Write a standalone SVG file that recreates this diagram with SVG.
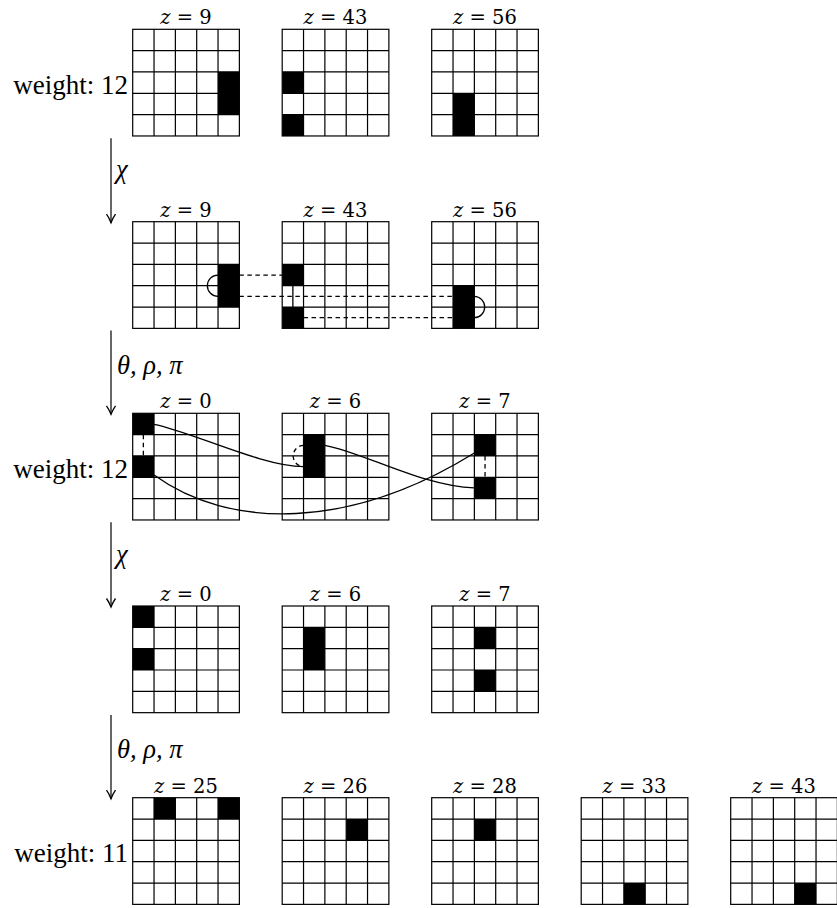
<svg xmlns="http://www.w3.org/2000/svg" xmlns:xlink="http://www.w3.org/1999/xlink" width="837" height="908" viewBox="0 0 837 908">
<style>
.zl{font-family:"DejaVu Serif","Liberation Serif",serif;font-size:19.5px;text-anchor:middle;fill:#000}
.zl tspan.i{font-style:italic}
.wl{font-family:"Liberation Serif","DejaVu Serif",serif;font-size:27px;text-anchor:end;fill:#000}
.op{font-family:"Liberation Serif","DejaVu Serif",serif;font-size:26.5px;font-style:italic;fill:#000}
.gl{fill:none;stroke:#000;stroke-width:1.2}
.on{fill:#000}
.arr{fill:none;stroke:#000;stroke-width:1.2}
.sol{fill:none;stroke:#000;stroke-width:1.3}
.dash{fill:none;stroke:#000;stroke-width:1.3;stroke-dasharray:4.5 3.5}
</style>
<defs>
<g id="grid">
<rect class="gl" x="0" y="0" width="106.67" height="106.67"/>
<path class="gl" d="M21.33,0V106.67M42.67,0V106.67M64,0V106.67M85.33,0V106.67M0,21.33H106.67M0,42.67H106.67M0,64H106.67M0,85.33H106.67"/>
</g>
<marker id="ah" markerUnits="userSpaceOnUse" markerWidth="12" markerHeight="12" viewBox="-9 -6 10 12" refX="0" refY="0" orient="auto">
<path d="M-8.5,-4.5C-5,-2 -1.5,-0.6 0,0C-1.5,0.6 -5,2 -8.5,4.5" fill="none" stroke="#000" stroke-width="1.3"/>
</marker>
</defs>

<!-- Row 1 -->
<text class="wl" x="128" y="94">weight: 12</text>
<g id="r1g1" transform="translate(132.7,29.3)">
<rect class="on" x="85.33" y="42.67" width="21.33" height="42.67"/>
<use xlink:href="#grid"/>
<text class="zl" x="53.33" y="-5"><tspan class="i">z</tspan> = 9</text>
</g>
<g id="r1g2" transform="translate(282.2,29.3)">
<rect class="on" x="0" y="42.67" width="21.33" height="21.33"/>
<rect class="on" x="0" y="85.33" width="21.33" height="21.33"/>
<use xlink:href="#grid"/>
<text class="zl" x="53.33" y="-5"><tspan class="i">z</tspan> = 43</text>
</g>
<g id="r1g3" transform="translate(431.7,29.3)">
<rect class="on" x="21.33" y="64" width="21.33" height="42.67"/>
<use xlink:href="#grid"/>
<text class="zl" x="53.33" y="-5"><tspan class="i">z</tspan> = 56</text>
</g>

<!-- Row 2 -->
<g id="r2g1" transform="translate(132.7,221.7)">
<rect class="on" x="85.33" y="42.67" width="21.33" height="42.67"/>
<use xlink:href="#grid"/>
<text class="zl" x="53.33" y="-5"><tspan class="i">z</tspan> = 9</text>
</g>
<g id="r2g2" transform="translate(282.2,221.7)">
<rect class="on" x="0" y="42.67" width="21.33" height="21.33"/>
<rect class="on" x="0" y="85.33" width="21.33" height="21.33"/>
<use xlink:href="#grid"/>
<text class="zl" x="53.33" y="-5"><tspan class="i">z</tspan> = 43</text>
</g>
<g id="r2g3" transform="translate(431.7,221.7)">
<rect class="on" x="21.33" y="64" width="21.33" height="42.67"/>
<use xlink:href="#grid"/>
<text class="zl" x="53.33" y="-5"><tspan class="i">z</tspan> = 56</text>
</g>

<!-- Row 3 -->
<text class="wl" x="128" y="478">weight: 12</text>
<g id="r3g1" transform="translate(132.7,413.3)">
<rect class="on" x="0" y="0" width="21.33" height="21.33"/>
<rect class="on" x="0" y="42.67" width="21.33" height="21.33"/>
<use xlink:href="#grid"/>
<text class="zl" x="53.33" y="-5"><tspan class="i">z</tspan> = 0</text>
</g>
<g id="r3g2" transform="translate(282.2,413.3)">
<rect class="on" x="21.33" y="21.33" width="21.33" height="42.67"/>
<use xlink:href="#grid"/>
<text class="zl" x="53.33" y="-5"><tspan class="i">z</tspan> = 6</text>
</g>
<g id="r3g3" transform="translate(431.7,413.3)">
<rect class="on" x="42.67" y="21.33" width="21.33" height="21.33"/>
<rect class="on" x="42.67" y="64" width="21.33" height="21.33"/>
<use xlink:href="#grid"/>
<text class="zl" x="53.33" y="-5"><tspan class="i">z</tspan> = 7</text>
</g>

<!-- Row 4 -->
<g id="r4g1" transform="translate(132.7,606)">
<rect class="on" x="0" y="0" width="21.33" height="21.33"/>
<rect class="on" x="0" y="42.67" width="21.33" height="21.33"/>
<use xlink:href="#grid"/>
<text class="zl" x="53.33" y="-5"><tspan class="i">z</tspan> = 0</text>
</g>
<g id="r4g2" transform="translate(282.2,606)">
<rect class="on" x="21.33" y="21.33" width="21.33" height="42.67"/>
<use xlink:href="#grid"/>
<text class="zl" x="53.33" y="-5"><tspan class="i">z</tspan> = 6</text>
</g>
<g id="r4g3" transform="translate(431.7,606)">
<rect class="on" x="42.67" y="21.33" width="21.33" height="21.33"/>
<rect class="on" x="42.67" y="64" width="21.33" height="21.33"/>
<use xlink:href="#grid"/>
<text class="zl" x="53.33" y="-5"><tspan class="i">z</tspan> = 7</text>
</g>

<!-- Row 5 -->
<text class="wl" x="128" y="862">weight: 11</text>
<g id="r5g1" transform="translate(132.7,797.7)">
<rect class="on" x="21.33" y="0" width="21.33" height="21.33"/>
<rect class="on" x="85.33" y="0" width="21.33" height="21.33"/>
<use xlink:href="#grid"/>
<text class="zl" x="53.33" y="-5"><tspan class="i">z</tspan> = 25</text>
</g>
<g id="r5g2" transform="translate(282.2,797.7)">
<rect class="on" x="64" y="21.33" width="21.33" height="21.33"/>
<use xlink:href="#grid"/>
<text class="zl" x="53.33" y="-5"><tspan class="i">z</tspan> = 26</text>
</g>
<g id="r5g3" transform="translate(431.7,797.7)">
<rect class="on" x="42.67" y="21.33" width="21.33" height="21.33"/>
<use xlink:href="#grid"/>
<text class="zl" x="53.33" y="-5"><tspan class="i">z</tspan> = 28</text>
</g>
<g id="r5g4" transform="translate(581.2,797.7)">
<rect class="on" x="42.67" y="85.33" width="21.33" height="21.33"/>
<use xlink:href="#grid"/>
<text class="zl" x="53.33" y="-5"><tspan class="i">z</tspan> = 33</text>
</g>
<g id="r5g5" transform="translate(730.7,797.7)">
<rect class="on" x="64" y="85.33" width="21.33" height="21.33"/>
<use xlink:href="#grid"/>
<text class="zl" x="53.33" y="-5"><tspan class="i">z</tspan> = 43</text>
</g>

<!-- Connectors -->
<g id="connectors">
<path class="arr" d="M111,138.3V222.7" marker-end="url(#ah)"/>
<path class="arr" d="M111,330.6V414.3" marker-end="url(#ah)"/>
<path class="arr" d="M111,522.3V607" marker-end="url(#ah)"/>
<path class="arr" d="M111,715V798.7" marker-end="url(#ah)"/>
<text class="op" x="116" y="178">χ</text>
<text class="op" x="117" y="373.5">θ, ρ, π</text>
<text class="op" x="116" y="562.7">χ</text>
<text class="op" x="117" y="758">θ, ρ, π</text>

<path class="sol" d="M218.03,275.03A10.67,10.67 0 0 0 218.03,296.37"/>
<path class="dash" d="M239.37,275.03H282.2"/>
<path class="dash" d="M239.37,296.37H453.03"/>
<path class="sol" d="M292.87,285.7V307.03"/>
<path class="dash" d="M303.53,317.7H453.03"/>
<path class="sol" d="M474.37,296.37A10.67,10.67 0 0 1 474.37,317.7"/>

<path class="dash" d="M143.37,434.63V455.97"/>
<path class="dash" d="M303.53,445.3A10.67,10.67 0 0 0 303.53,466.63"/>
<path class="dash" d="M485.03,455.97V477.3"/>
<path class="sol" d="M154.03,424.3C190,431 262,466.6 303.53,466.63"/>
<path class="sol" d="M324.87,445.3C365,453 422,486 474.37,487.97"/>
<path class="sol" d="M154.03,475C230,530 350,530 474.37,453"/>
</g>
</svg>
